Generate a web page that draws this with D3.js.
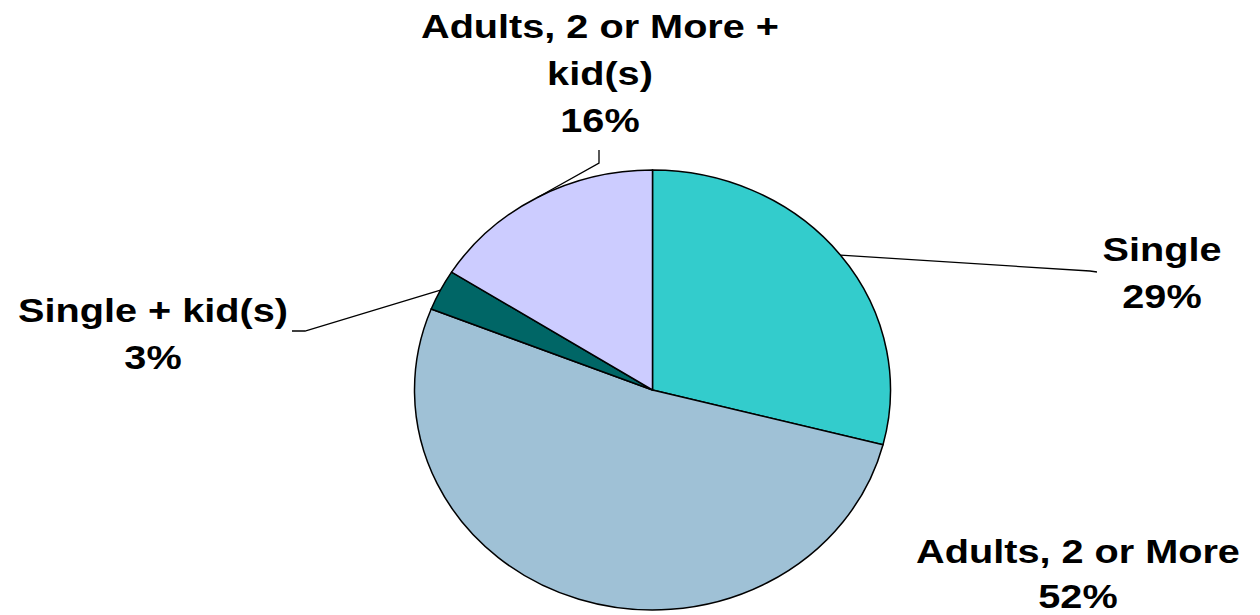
<!DOCTYPE html>
<html>
<head>
<meta charset="utf-8">
<script src="https://cdn.jsdelivr.net/npm/d3@7"></script>
<style>
  html, body { margin: 0; padding: 0; background: #ffffff; }
  svg { display: block; }
  .lbl { font-family: "Liberation Sans", Arial, sans-serif; font-weight: bold; fill: #000; }
</style>
</head>
<body>
<svg id="chart" width="1260" height="615"></svg>
<script>
// Household composition shares (percent)
const categories = ["Single", "Adults, 2 or More", "Single + kid(s)", "Adults, 2 or More + kid(s)"];
const shares = [29, 52, 3, 16];
const sliceColors = ["#33CCCC", "#9FC1D6", "#006666", "#CCCCFF"];

// Label placement: text anchor (centre of first baseline), line gap and leader-line bend points
const labelLayout = [
  { x: 1162, y: 261, gap: 47, bend: [[1090, 271], [1097, 272]] },
  { x: 1078, y: 563, gap: 45, bend: null },
  { x: 153,  y: 322, gap: 47, bend: [[305, 331], [292, 331]] },
  { x: 600,  y: 38,  gap: 47, bend: [[599, 163], [599, 150]] }
];

const cx = 652.5, cy = 390;
const ry = 220, rx = 238;
const sx = rx / ry;
const fontSize = 32.5;
const textStretch = 1.22;

const svg = d3.select("#chart");

const pie = d3.pie().sort(null).value(d => d)(shares);
const arc = d3.arc().innerRadius(0).outerRadius(ry);

const pieG = svg.append("g").attr("transform", `translate(${cx},${cy}) scale(${sx},1)`);
pieG.selectAll("path")
  .data(pie)
  .join("path")
  .attr("d", arc)
  .attr("fill", (d, i) => sliceColors[i])
  .attr("stroke", "#000")
  .attr("stroke-width", 1.5)
  .attr("vector-effect", "non-scaling-stroke");

// Point on the stretched outer edge at the slice's mid angle
function edgePoint(d) {
  const a = (d.startAngle + d.endAngle) / 2;
  return [cx + Math.sin(a) * ry * sx, cy - Math.cos(a) * ry];
}

// Leader lines
const line = d3.line();
svg.append("g").selectAll("path")
  .data(pie.filter((d, i) => labelLayout[i].bend))
  .join("path")
  .attr("d", d => line([edgePoint(d), ...labelLayout[d.index].bend]))
  .attr("fill", "none")
  .attr("stroke", "#000")
  .attr("stroke-width", 1.3);

// Greedy word wrap
function wrap(text, maxChars) {
  const words = text.split(" ");
  const lines = [];
  let cur = "";
  words.forEach(w => {
    const next = cur ? cur + " " + w : w;
    if (next.length > maxChars && cur) { lines.push(cur); cur = w; }
    else cur = next;
  });
  if (cur) lines.push(cur);
  return lines;
}

const labels = svg.append("g").selectAll("g")
  .data(pie)
  .join("g")
  .attr("transform", (d, i) => `translate(${labelLayout[i].x},${labelLayout[i].y}) scale(${textStretch},1)`);

labels.each(function (d, i) {
  const lines = wrap(categories[i], 20).concat([d3.format(".0f")(shares[i]) + "%"]);
  d3.select(this).selectAll("text")
    .data(lines)
    .join("text")
    .attr("class", "lbl")
    .attr("text-anchor", "middle")
    .attr("font-size", fontSize)
    .attr("y", (t, k) => k * labelLayout[i].gap)
    .text(t => t);
});
</script>
</body>
</html>
